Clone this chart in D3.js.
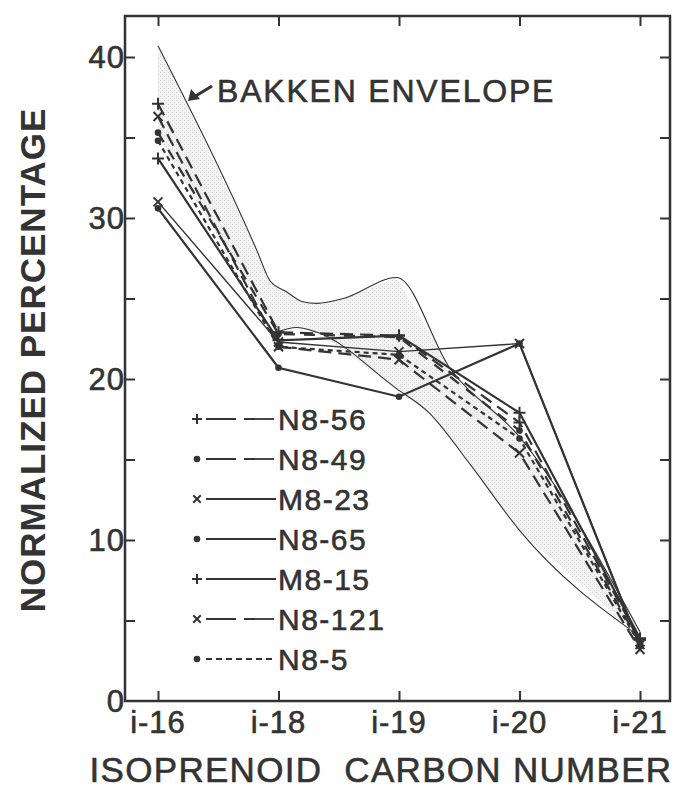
<!DOCTYPE html>
<html>
<head>
<meta charset="utf-8">
<script src="https://cdn.jsdelivr.net/npm/d3@7"></script>
<style>
  html, body { margin: 0; padding: 0; background: #fff; }
  svg { display: block; }
  text { font-family: "Liberation Sans", Arial, sans-serif; fill: #333; }
  text.heavy { stroke: #333; stroke-width: 0.6px; }
</style>
</head>
<body>
<svg id="chart" width="681" height="789"></svg>
<script>
// Isoprenoid distribution, normalized percentages per sample
const categories = ["i-16", "i-18", "i-19", "i-20", "i-21"];
const seriesNames = ["N8-56", "N8-49", "M8-23", "N8-65", "M8-15", "N8-121", "N8-5"];
const seriesMarkers = ["plus", "dot", "cross", "dot", "plus", "cross", "dot"];
const seriesDashes = ["13,7", "11,9", null, null, null, "13,7", "5,4"];
const valuesN856  = [37.1, 22.9, 22.7, 17.3, 3.8];
const valuesN849  = [35.3, 22.8, 22.6, 16.8, 3.6];
const valuesM823  = [31.0, 22.3, 21.7, 22.2, 3.5];
const valuesN865  = [30.6, 20.7, 18.9, 22.2, 3.4];
const valuesM815  = [33.7, 22.4, 22.7, 17.9, 3.9];
const valuesN8121 = [36.3, 22.0, 21.2, 15.4, 3.2];
const valuesN85   = [34.8, 22.0, 21.5, 16.3, 3.5];
const seriesValues = [valuesN856, valuesN849, valuesM823, valuesN865, valuesM815, valuesN8121, valuesN85];

// Bakken envelope outline: [position along the carbon-number axis, percentage]
const envelopeUpper = [[0, 40.7], [0.82, 28.0], [0.93, 26.1], [1.07, 25.4], [1.20, 24.8],
                       [1.32, 24.7], [1.54, 25.0], [1.98, 26.3], [2.42, 20.7], [3.0, 16.4], [4, 4.3]];
const envelopeLower = [[0, 35.0], [0.98, 22.9], [1.15, 23.2], [1.32, 22.9], [1.98, 19.4],
                       [2.25, 17.9], [2.6, 14.6], [3.0, 10.6], [4, 4.0]];

const yTicks = [0, 5, 10, 15, 20, 25, 30, 35, 40];
const yTickLabels = [0, 10, 20, 30, 40];

const svg = d3.select("#chart");
const frame = { left: 125, right: 670, top: 16, bottom: 701 };
const ink = "#333";

const x = d3.scalePoint().domain(categories).range([158, 640]);
const xPos = d3.scaleLinear().domain([0, categories.length - 1]).range([158, 640]);
const y = d3.scaleLinear().domain([0, 40]).range([701, 57]);

// Envelope shading (stippled)
const upperPts = envelopeUpper.map(d => [xPos(d[0]), y(d[1])]);
const lowerPts = envelopeLower.map(d => [xPos(d[0]), y(d[1])]);
const defs = svg.append("defs");
const pat = defs.append("pattern").attr("id", "stipple").attr("patternUnits", "userSpaceOnUse")
  .attr("width", 4).attr("height", 4);
pat.append("rect").attr("width", 4).attr("height", 4).attr("fill", "#f2f2f2");
pat.append("rect").attr("x", 0).attr("y", 0).attr("width", 1).attr("height", 1).attr("fill", "#d4d4d4");
pat.append("rect").attr("x", 2).attr("y", 2).attr("width", 1).attr("height", 1).attr("fill", "#dadada");

const smooth = d3.line().curve(d3.curveMonotoneX);
svg.append("path")
  .attr("d", "M" + upperPts.map(p => p.join(",")).join("L") + "L" +
             lowerPts.slice().reverse().map(p => p.join(",")).join("L") + "Z")
  .attr("fill", "url(#stipple)").attr("stroke", "none");
svg.append("path").attr("d", smooth(upperPts)).attr("fill", "none").attr("stroke", ink).attr("stroke-width", 1.1);
svg.append("path").attr("d", smooth(lowerPts.slice(1))).attr("fill", "none").attr("stroke", ink).attr("stroke-width", 1.1);

// Frame
svg.append("rect")
  .attr("x", frame.left).attr("y", frame.top)
  .attr("width", frame.right - frame.left).attr("height", frame.bottom - frame.top)
  .attr("fill", "none").attr("stroke", ink).attr("stroke-width", 2.5);

// Axes with inward ticks on all four sides
const tickLen = 10;
const gLeft = svg.append("g").attr("transform", `translate(${frame.left},0)`)
  .call(d3.axisRight(y).tickValues(yTicks.filter(v => v > 0)).tickSize(tickLen).tickFormat(""));
const gRight = svg.append("g").attr("transform", `translate(${frame.right},0)`)
  .call(d3.axisLeft(y).tickValues(yTicks.filter(v => v > 0)).tickSize(tickLen).tickFormat(""));
const gBottom = svg.append("g").attr("transform", `translate(0,${frame.bottom})`)
  .call(d3.axisTop(x).tickSize(tickLen).tickFormat(""));
const gTop = svg.append("g").attr("transform", `translate(0,${frame.top})`)
  .call(d3.axisBottom(x).tickSize(tickLen).tickFormat(""));
[gLeft, gRight, gBottom, gTop].forEach(g => {
  g.select(".domain").remove();
  g.selectAll("line").attr("stroke", ink).attr("stroke-width", 2);
});

// Tick labels
svg.append("g").selectAll("text").data(yTickLabels).join("text")
  .attr("class", "heavy")
  .attr("x", 125).attr("y", d => y(d))
  .attr("dy", "0.36em").attr("text-anchor", "end")
  .attr("font-size", 31).attr("letter-spacing", 1)
  .text(d => d);
svg.append("g").selectAll("text").data(categories).join("text")
  .attr("class", "heavy")
  .attr("x", d => x(d)).attr("y", 733)
  .attr("text-anchor", "middle")
  .attr("font-size", 31).attr("letter-spacing", 1)
  .text(d => d);

// Axis titles
svg.append("text")
  .attr("transform", "translate(45,360) rotate(-90)")
  .attr("text-anchor", "middle").attr("font-size", 35).attr("font-weight", "bold")
  .attr("letter-spacing", 1)
  .text("NORMALIZED PERCENTAGE");
svg.append("text")
  .attr("class", "heavy")
  .attr("x", 381).attr("y", 782)
  .attr("text-anchor", "middle").attr("font-size", 35).attr("letter-spacing", 1.3)
  .attr("xml:space", "preserve").style("white-space", "pre")
  .text("ISOPRENOID  CARBON NUMBER");

// Series lines
const line = d3.line().x((d, i) => x(categories[i])).y(d => y(d));
const seriesG = svg.append("g");
seriesValues.forEach((vals, k) => {
  seriesG.append("path").attr("d", line(vals))
    .attr("fill", "none").attr("stroke", ink)
    .attr("stroke-width", k === 2 ? 1.4 : 2.2)
    .attr("stroke-dasharray", seriesDashes[k]);
});

function drawMarker(g, type, cx, cy, s) {
  if (type === "dot") {
    g.append("circle").attr("cx", cx).attr("cy", cy).attr("r", 3.3).attr("fill", ink);
  } else if (type === "plus") {
    g.append("path").attr("d", `M${cx - s},${cy}H${cx + s}M${cx},${cy - s}V${cy + s}`)
      .attr("stroke", ink).attr("stroke-width", 2).attr("fill", "none");
  } else {
    const t = s * 0.75;
    g.append("path").attr("d", `M${cx - t},${cy - t}L${cx + t},${cy + t}M${cx - t},${cy + t}L${cx + t},${cy - t}`)
      .attr("stroke", ink).attr("stroke-width", 2).attr("fill", "none");
  }
}
seriesValues.forEach((vals, k) => {
  vals.forEach((v, i) => drawMarker(seriesG, seriesMarkers[k], x(categories[i]), y(v), 6));
});

// Envelope label with arrow
svg.append("text").attr("class", "heavy").attr("x", 217).attr("y", 102)
  .attr("font-size", 32).attr("letter-spacing", 1.8)
  .text("BAKKEN ENVELOPE");
svg.append("line").attr("x1", 212).attr("y1", 86).attr("x2", 194).attr("y2", 97)
  .attr("stroke", ink).attr("stroke-width", 3);
svg.append("path").attr("d", "M188,101 L191,89 L200,99 Z").attr("fill", ink);

// Legend
const legend = svg.append("g");
seriesNames.forEach((name, k) => {
  const ly = 419 + k * 40;
  drawMarker(legend, seriesMarkers[k], 197, ly, 5);
  legend.append("line").attr("x1", 206).attr("x2", 276).attr("y1", ly).attr("y2", ly)
    .attr("stroke", ink).attr("stroke-width", 1.8)
    .attr("stroke-dasharray", k === 6 ? "6,4" : (seriesDashes[k] ? "30,8" : null));
  legend.append("text").attr("class", "heavy").attr("x", 278).attr("y", ly).attr("dy", "0.36em")
    .attr("font-size", 30).attr("letter-spacing", 1.5)
    .text(name);
});
</script>
</body>
</html>
